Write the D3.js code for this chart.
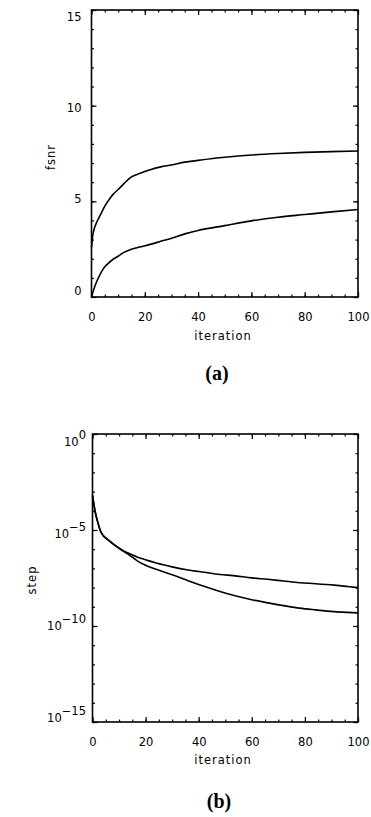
<!DOCTYPE html>
<html>
<head>
<meta charset="utf-8">
<script src="https://cdn.jsdelivr.net/npm/d3@7/dist/d3.min.js"></script>
<style>
  body { margin: 0; background: #fff; }
  svg { display: block; }
  .tick text { font-family: "DejaVu Sans", sans-serif; font-size: 11.5px; fill: #000; }
  .tick line { stroke: #000; stroke-width: 1.2; }
  .lbl { font-family: "DejaVu Sans", sans-serif; font-size: 11.5px; letter-spacing: 1px; }
  .cap { font-family: "Liberation Serif", serif; font-size: 20px; font-weight: bold; }
</style>
</head>
<body>
<div id="chart"></div>
<script>
// ---- Data ----
// (a) fsnr vs iteration
const iterA = [0, 0.5, 1, 2, 3, 4, 5, 6, 8, 10, 12, 15, 18, 22, 26, 30, 35, 40, 50, 60, 70, 80, 90, 100];
const fsnrUpper = [2.6, 3.25, 3.55, 3.92, 4.2, 4.48, 4.75, 4.97, 5.35, 5.62, 5.9, 6.28, 6.45, 6.65, 6.8, 6.9, 7.05, 7.14, 7.3, 7.42, 7.5, 7.56, 7.6, 7.63];
const fsnrLower = [0, 0.25, 0.46, 0.82, 1.12, 1.38, 1.58, 1.72, 1.96, 2.13, 2.32, 2.5, 2.61, 2.75, 2.91, 3.07, 3.3, 3.48, 3.73, 3.98, 4.17, 4.31, 4.45, 4.57];

// (b) step vs iteration (log scale)
const iterB = [0, 1, 2, 3, 4, 6, 8, 11, 14, 17, 20, 24, 30, 36, 42, 48, 53, 60, 66, 72, 78, 84, 91, 96, 100];
const stepUpper = [6.3e-4, 8.9e-5, 2.5e-5, 8.9e-6, 5.2e-6, 3.0e-6, 1.8e-6, 9.1e-7, 5.8e-7, 3.8e-7, 2.8e-7, 1.9e-7, 1.2e-7, 8.3e-8, 6.3e-8, 4.8e-8, 4.2e-8, 3.2e-8, 2.7e-8, 2.2e-8, 1.8e-8, 1.6e-8, 1.35e-8, 1.15e-8, 1.0e-8];
const stepLower = [6.3e-4, 8.9e-5, 2.5e-5, 8.9e-6, 5.2e-6, 3.0e-6, 1.8e-6, 9.1e-7, 4.8e-7, 2.4e-7, 1.45e-7, 8.9e-8, 4.7e-8, 2.3e-8, 1.17e-8, 6.3e-9, 4.0e-9, 2.35e-9, 1.6e-9, 1.15e-9, 8.5e-10, 6.9e-10, 5.6e-10, 5.1e-10, 4.8e-10];

// Ticks
const xMajor = [0, 20, 40, 60, 80, 100];
const xMinor = d3.range(0, 101, 5);
const yMajorA = [0, 5, 10, 15];
const yMinorA = d3.range(0, 16, 1);
const expMajorB = [0, -5, -10, -15];
const expMinorB = d3.range(-15, 1, 1);

const svg = d3.select("#chart").append("svg")
    .attr("width", 371)
    .attr("height", 817);

// draws inward ticks on all four sides + frame
function frame(g, x, y, xMaj, xMin, yMaj, yMin) {
    const [x0, x1] = x.range();
    const [y0, y1] = y.range(); // y0 = bottom, y1 = top

    const axes = [
        [d3.axisBottom, x, xMaj, xMin, `translate(0,${y0})`],
        [d3.axisTop, x, xMaj, xMin, `translate(0,${y1})`],
        [d3.axisLeft, y, yMaj, yMin, `translate(${x0},0)`],
        [d3.axisRight, y, yMaj, yMin, `translate(${x1},0)`]
    ];
    axes.forEach(([ax, s, maj, min, tr]) => {
        g.append("g").attr("transform", tr)
            .call(ax(s).tickValues(min).tickSize(-2.5).tickFormat(""))
            .call(a => a.select(".domain").remove());
        g.append("g").attr("transform", tr)
            .call(ax(s).tickValues(maj).tickSize(-5).tickFormat(""))
            .call(a => a.select(".domain").remove());
    });

    g.append("rect")
        .attr("x", x0).attr("y", y1)
        .attr("width", x1 - x0).attr("height", y0 - y1)
        .attr("fill", "none").attr("stroke", "#000").attr("stroke-width", 1.6);

    // x tick labels
    g.append("g").attr("transform", `translate(0,${y0})`)
        .call(d3.axisBottom(x).tickValues(xMaj).tickSize(0).tickPadding(16).tickFormat(d3.format("d")))
        .call(a => a.select(".domain").remove());
}

// ---- Panel (a) ----
const xA = d3.scaleLinear().domain([0, 100]).range([91.5, 358]);
const yA = d3.scaleLinear().domain([0, 15]).range([297, 10]);
const gA = svg.append("g");
frame(gA, xA, yA, xMajor, xMinor, yMajorA, yMinorA);

const midA = (297 + 10) / 2;
gA.append("g").attr("transform", `translate(91.5,0)`)
    .call(d3.axisLeft(yA).tickValues(yMajorA).tickSize(0).tickPadding(10).tickFormat(d3.format("d")))
    .call(a => a.select(".domain").remove())
    .call(a => a.selectAll("text").attr("y", d => (midA - yA(d)) * 0.045));

const lineA = d3.line().x((d, i) => xA(iterA[i])).y(d => yA(d)).curve(d3.curveMonotoneX);
[fsnrUpper, fsnrLower].forEach(s => {
    gA.append("path").datum(s)
        .attr("d", lineA)
        .attr("fill", "none").attr("stroke", "#000").attr("stroke-width", 1.6);
});

gA.append("text").attr("class", "lbl")
    .attr("transform", "translate(51,157) rotate(-90)")
    .attr("text-anchor", "middle").attr("dy", "0.35em")
    .text("fsnr");
gA.append("text").attr("class", "lbl")
    .attr("x", 223).attr("y", 340).attr("text-anchor", "middle")
    .text("iteration");
gA.append("text").attr("class", "cap")
    .attr("x", 217).attr("y", 380).attr("text-anchor", "middle")
    .text("(a)");

// ---- Panel (b) ----
const xB = d3.scaleLinear().domain([0, 100]).range([92.5, 358]);
const yB = d3.scaleLog().domain([1e-15, 1]).range([722, 434]);
const gB = svg.append("g");
frame(gB, xB, yB, xMajor, xMinor,
    expMajorB.map(e => Math.pow(10, e)), expMinorB.map(e => Math.pow(10, e)));

const midB = (722 + 434) / 2;
expMajorB.forEach(e => {
    const ty = yB(Math.pow(10, e));
    const t = gB.append("text")
        .attr("x", 86)
        .attr("y", ty + 6 + (midB - ty) * 0.045)
        .attr("text-anchor", "end")
        .style("font-family", "DejaVu Sans, sans-serif")
        .style("font-size", "11.5px");
    t.append("tspan").text("10");
    t.append("tspan").attr("dy", -7).text(e === 0 ? "0" : "\u2212" + (-e));
});

const lineB = d3.line().x((d, i) => xB(iterB[i])).y(d => yB(d)).curve(d3.curveMonotoneX);
[stepUpper, stepLower].forEach(s => {
    gB.append("path").datum(s)
        .attr("d", lineB)
        .attr("fill", "none").attr("stroke", "#000").attr("stroke-width", 1.6);
});

gB.append("text").attr("class", "lbl")
    .attr("transform", "translate(32,580) rotate(-90)")
    .attr("text-anchor", "middle").attr("dy", "0.35em")
    .text("step");
gB.append("text").attr("class", "lbl")
    .attr("x", 223).attr("y", 764).attr("text-anchor", "middle")
    .text("iteration");
gB.append("text").attr("class", "cap")
    .attr("x", 219).attr("y", 808).attr("text-anchor", "middle")
    .text("(b)");
</script>
</body>
</html>
